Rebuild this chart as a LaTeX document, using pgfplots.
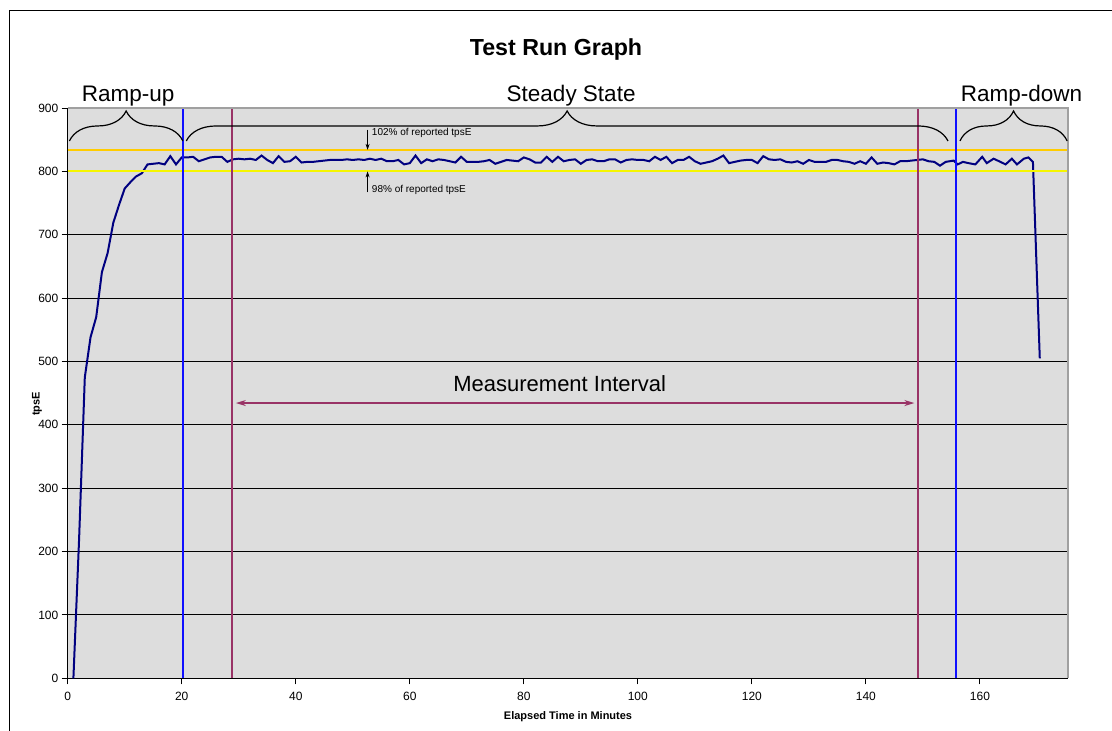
\documentclass[border=0pt]{standalone}
\usepackage{fontspec}
\setmainfont{Liberation Sans}
\usepackage{pgfplots}
\pgfplotsset{compat=1.18}
\usetikzlibrary{decorations.pathreplacing,arrows.meta}

\definecolor{plotbg}{HTML}{DDDDDD}
\definecolor{navy}{HTML}{000080}
\definecolor{mpurple}{HTML}{993366}
\definecolor{vblue}{HTML}{1010FF}
\definecolor{hiyel}{HTML}{FFCC00}
\definecolor{loyel}{HTML}{F5F500}
\definecolor{edgegray}{HTML}{A0A0A0}

\begin{document}
\begin{tikzpicture}
\fill[white] (0,0) rectangle (556pt,365.5pt);
\useasboundingbox (0,0) rectangle (556pt,365.5pt);
\draw[line width=0.6pt] (4.75pt,-5pt) -- (4.75pt,360.25pt) -- (560pt,360.25pt);
\begin{axis}[
  at={(33.85pt,26.35pt)}, anchor=south west,
  scale only axis, width=500pt, height=285.15pt,
  xmin=0, xmax=175.4, ymin=0, ymax=900,
  axis lines*=left, axis line style={-, black, line width=0.5pt},
  axis background/.style={fill=plotbg},
  xtick={0,20,...,160}, ytick={0,100,...,900},
  ymajorgrids, major grid style={black, line width=0.5pt},
  tick align=outside, major tick length=3pt,
  tick style={black, line width=0.5pt},
  tick label style={font=\fontsize{6}{7}\selectfont},
  /pgf/number format/assume math mode=true,
  yticklabel style={inner sep=1.5pt},
  xticklabel style={inner sep=0pt, yshift=-3.5pt},
  clip=false,
]
\addplot[navy, line width=1pt] coordinates {
(1,0) (2,220) (3,475) (4,538) (5,570) (6,641) (7,671) (8,719) (9,747) (10,773)
(11,783) (12,792) (13,797) (14,811) (15,812) (16,813) (17,811) (18,824) (19,811)
(20,822) (21,822) (22,823) (23,816) (24,819) (25,822) (26,823) (27,823) (28,815) (29,819)
(30,820) (31,819) (32,820) (33,818) (34,825) (35,818) (36,813) (37,824) (38,815) (39,816)
(40,823) (41,814) (42,815) (43,815) (44,816) (45,817) (46,818) (47,818) (48,818) (49,819)
(50,818) (51,819) (52,818) (53,820) (54,818) (55,820) (56,816) (57,816) (58,818) (59,811)
(60,813) (61,825) (62,813) (63,819) (64,816) (65,819) (66,818) (67,816) (68,814) (69,823)
(70,815) (71,815) (72,815) (73,816) (74,818) (75,812) (76,815) (77,818) (78,817) (79,816)
(80,822) (81,819) (82,814) (83,814) (84,823) (85,815) (86,823) (87,816) (88,818) (89,819)
(90,812) (91,818) (92,819) (93,816) (94,816) (95,819) (96,819) (97,814) (98,818) (99,819)
(100,818) (101,818) (102,816) (103,823) (104,818) (105,823) (106,813) (107,818) (108,818) (109,823)
(110,816) (111,812) (112,814) (113,816) (114,820) (115,825) (116,813) (117,815) (118,817) (119,818)
(120,818) (121,813) (122,824) (123,819) (124,818) (125,819) (126,815) (127,814) (128,816) (129,812)
(130,818) (131,815) (132,815) (133,815) (134,818) (135,818) (136,816) (137,815) (138,812) (139,816)
(140,812) (141,822) (142,812) (143,814) (144,813) (145,811) (146,816) (147,816) (148,817) (149,818)
(150,819) (151,816) (152,815) (153,809) (154,815) (155.4,817) (156.1,811) (157,815) (158,813)
(159.2,811) (160.4,823) (161.2,813) (162.4,820) (163.6,815) (164.5,811) (165.6,820) (166.5,811)
(167.7,820) (168.5,822) (169.3,815) (170.5,505)
};
% reference bands (102% / 98% of reported tpsE)
\addplot[hiyel, line width=1pt] coordinates {(0,833) (175.4,833)};
\addplot[loyel, line width=1pt] coordinates {(0,800.6) (175.4,800.6)};
% phase boundaries
\addplot[vblue, line width=1pt] coordinates {(20.2,0) (20.2,900)};
\addplot[vblue, line width=1pt] coordinates {(155.8,0) (155.8,900)};
\addplot[mpurple, line width=1pt] coordinates {(28.8,0) (28.8,900)};
\addplot[mpurple, line width=1pt] coordinates {(149.1,0) (149.1,900)};
\draw[edgegray, line width=0.8pt] (axis cs:0,900) -- (axis cs:175.4,900) -- (axis cs:175.4,0);
% braces and labels
\draw[decorate, decoration={brace, amplitude=15pt}, line width=0.6pt]
  (axis cs:0.3,848) -- (axis cs:20.2,848);
\draw[decorate, decoration={brace, amplitude=15pt}, line width=0.6pt]
  (axis cs:20.8,848) -- (axis cs:154.4,848);
\draw[decorate, decoration={brace, amplitude=15pt}, line width=0.6pt]
  (axis cs:156.5,848) -- (axis cs:175.3,848);
\node[anchor=base, font=\fontsize{11.25}{13}\selectfont] at (axis cs:10.6,909.8) {Ramp-up};
\node[anchor=base, font=\fontsize{11.25}{13}\selectfont] at (axis cs:88.3,909.8) {Steady State};
\node[anchor=base, font=\fontsize{11.25}{13}\selectfont] at (axis cs:167.3,909.8) {Ramp-down};
\draw[-{Stealth[length=3pt,width=2pt]}, line width=0.4pt] (axis cs:52.6,866) -- (axis cs:52.6,834);
\node[anchor=west, inner sep=0pt, font=\fontsize{5}{6}\selectfont] at (axis cs:53.3,860.4) {102\% of reported tpsE};
\draw[-{Stealth[length=3pt,width=2pt]}, line width=0.4pt] (axis cs:52.6,767) -- (axis cs:52.6,800);
\node[anchor=west, inner sep=0pt, font=\fontsize{5}{6}\selectfont] at (axis cs:53.3,770) {98\% of reported tpsE};
\draw[{Stealth[length=5pt,width=3pt]}-{Stealth[length=5pt,width=3pt]}, mpurple, line width=0.6pt]
  (axis cs:29.5,434.4) -- (axis cs:148.5,434.4);
\node[anchor=base, font=\fontsize{11}{13}\selectfont] at (axis cs:86.3,453) {Measurement Interval};
\end{axis}
\node[anchor=base, font=\fontsize{11.6}{14}\selectfont\bfseries] at (278pt,337.5pt) {Test Run Graph};
\node[font=\fontsize{5.5}{7}\selectfont\bfseries] at (284pt,7pt) {Elapsed Time in Minutes};
\node[rotate=90, font=\fontsize{5.5}{7}\selectfont\bfseries] at (18.5pt,163.5pt) {tpsE};
\end{tikzpicture}
\end{document}
